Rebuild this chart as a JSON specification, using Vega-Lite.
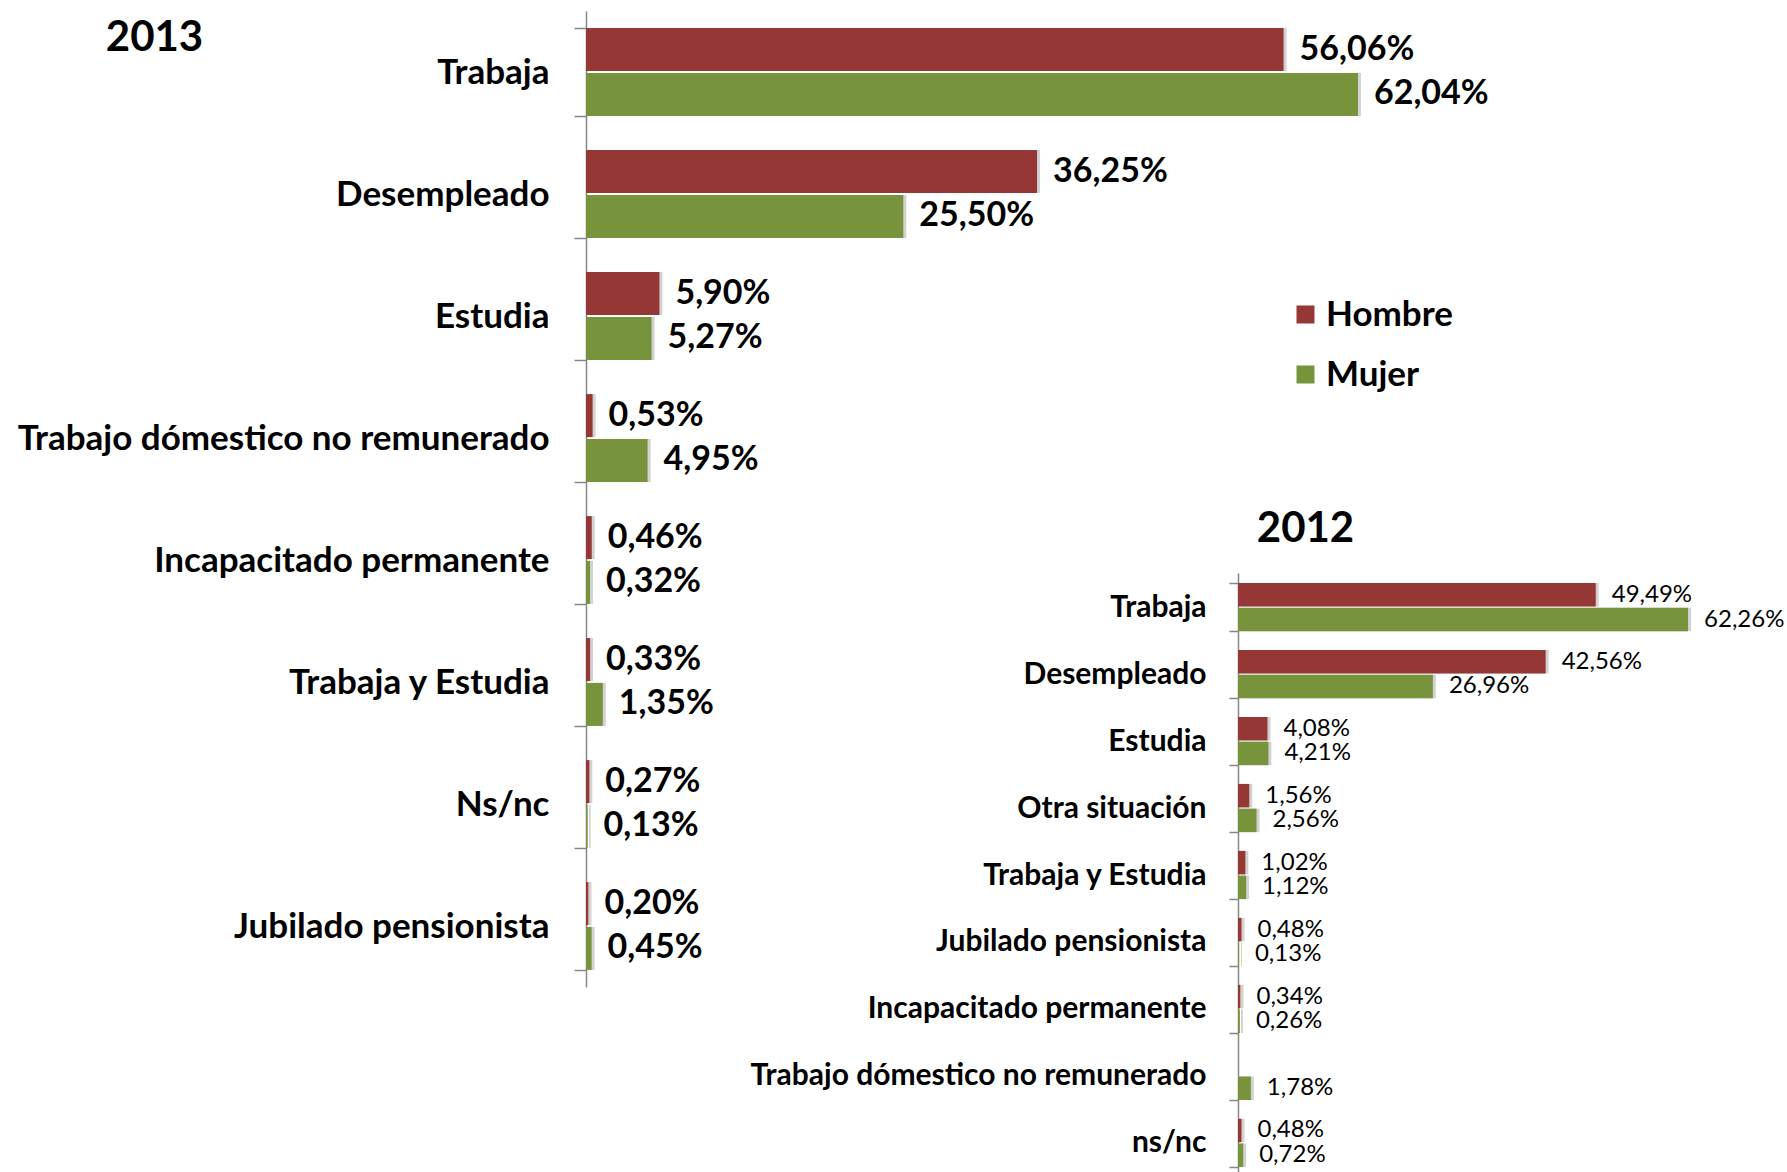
{
  "$schema": "https://vega.github.io/schema/vega-lite/v6.json",
  "width": 1787,
  "height": 1172,
  "autosize": {"type": "none"},
  "padding": 0,
  "background": "white",
  "config": {"view": {"stroke": null}, "font": "Lato"},
  "data": {
    "values": [
      {"year": 2013, "cat": "Trabaja", "sex": "Hombre", "v": 56.06, "label": "56,06%"},
      {"year": 2013, "cat": "Trabaja", "sex": "Mujer", "v": 62.04, "label": "62,04%"},
      {"year": 2013, "cat": "Desempleado", "sex": "Hombre", "v": 36.25, "label": "36,25%"},
      {"year": 2013, "cat": "Desempleado", "sex": "Mujer", "v": 25.50, "label": "25,50%"},
      {"year": 2013, "cat": "Estudia", "sex": "Hombre", "v": 5.90, "label": "5,90%"},
      {"year": 2013, "cat": "Estudia", "sex": "Mujer", "v": 5.27, "label": "5,27%"},
      {"year": 2013, "cat": "Trabajo dómestico no remunerado", "sex": "Hombre", "v": 0.53, "label": "0,53%"},
      {"year": 2013, "cat": "Trabajo dómestico no remunerado", "sex": "Mujer", "v": 4.95, "label": "4,95%"},
      {"year": 2013, "cat": "Incapacitado permanente", "sex": "Hombre", "v": 0.46, "label": "0,46%"},
      {"year": 2013, "cat": "Incapacitado permanente", "sex": "Mujer", "v": 0.32, "label": "0,32%"},
      {"year": 2013, "cat": "Trabaja y Estudia", "sex": "Hombre", "v": 0.33, "label": "0,33%"},
      {"year": 2013, "cat": "Trabaja y Estudia", "sex": "Mujer", "v": 1.35, "label": "1,35%"},
      {"year": 2013, "cat": "Ns/nc", "sex": "Hombre", "v": 0.27, "label": "0,27%"},
      {"year": 2013, "cat": "Ns/nc", "sex": "Mujer", "v": 0.13, "label": "0,13%"},
      {"year": 2013, "cat": "Jubilado pensionista", "sex": "Hombre", "v": 0.20, "label": "0,20%"},
      {"year": 2013, "cat": "Jubilado pensionista", "sex": "Mujer", "v": 0.45, "label": "0,45%"},
      {"year": 2012, "cat": "Trabaja", "sex": "Hombre", "v": 49.49, "label": "49,49%"},
      {"year": 2012, "cat": "Trabaja", "sex": "Mujer", "v": 62.26, "label": "62,26%"},
      {"year": 2012, "cat": "Desempleado", "sex": "Hombre", "v": 42.56, "label": "42,56%"},
      {"year": 2012, "cat": "Desempleado", "sex": "Mujer", "v": 26.96, "label": "26,96%"},
      {"year": 2012, "cat": "Estudia", "sex": "Hombre", "v": 4.08, "label": "4,08%"},
      {"year": 2012, "cat": "Estudia", "sex": "Mujer", "v": 4.21, "label": "4,21%"},
      {"year": 2012, "cat": "Otra situación", "sex": "Hombre", "v": 1.56, "label": "1,56%"},
      {"year": 2012, "cat": "Otra situación", "sex": "Mujer", "v": 2.56, "label": "2,56%"},
      {"year": 2012, "cat": "Trabaja y Estudia", "sex": "Hombre", "v": 1.02, "label": "1,02%"},
      {"year": 2012, "cat": "Trabaja y Estudia", "sex": "Mujer", "v": 1.12, "label": "1,12%"},
      {"year": 2012, "cat": "Jubilado pensionista", "sex": "Hombre", "v": 0.48, "label": "0,48%"},
      {"year": 2012, "cat": "Jubilado pensionista", "sex": "Mujer", "v": 0.13, "label": "0,13%"},
      {"year": 2012, "cat": "Incapacitado permanente", "sex": "Hombre", "v": 0.34, "label": "0,34%"},
      {"year": 2012, "cat": "Incapacitado permanente", "sex": "Mujer", "v": 0.26, "label": "0,26%"},
      {"year": 2012, "cat": "Trabajo dómestico no remunerado", "sex": "Mujer", "v": 1.78, "label": "1,78%"},
      {"year": 2012, "cat": "ns/nc", "sex": "Hombre", "v": 0.48, "label": "0,48%"},
      {"year": 2012, "cat": "ns/nc", "sex": "Mujer", "v": 0.72, "label": "0,72%"}
    ]
  },
  "resolve": {
    "scale": {"x": "independent", "y": "independent", "yOffset": "independent"},
    "axis": {"x": "independent", "y": "independent"}
  },
  "layer": [
    {
      "transform": [{"filter": "datum.year == 2013"}],
      "encoding": {
        "y": {
          "field": "cat", "type": "nominal",
          "scale": {
            "domain": ["Trabaja", "Desempleado", "Estudia", "Trabajo dómestico no remunerado", "Incapacitado permanente", "Trabaja y Estudia", "Ns/nc", "Jubilado pensionista"],
            "range": [11, 987], "paddingInner": 0.28, "paddingOuter": 0.14
          },
          "axis": {
            "orient": "left", "offset": -586,
            "title": "2013", "titleAngle": 0, "titleX": -432, "titleY": 37,
            "titleAlign": "center", "titleBaseline": "middle",
            "titleFont": "Lato", "titleFontSize": 42, "titleFontWeight": "bold", "titleColor": "black",
            "labelFont": "Lato", "labelFontSize": 35, "labelFontWeight": "bold", "labelColor": "black",
            "labelPadding": 25, "labelLimit": 0, "tickSize": 12, "tickBand": "extent",
            "domainColor": "#868686", "tickColor": "#868686", "domainWidth": 1.5, "tickWidth": 1.5, "grid": false
          }
        },
        "yOffset": {"field": "sex", "type": "nominal", "scale": {"domain": ["Hombre", "Mujer"], "paddingInner": 0.04}},
        "x": {"field": "v", "type": "quantitative", "scale": {"domain": [0, 70], "range": [586, 1457]}, "axis": null}
      },
      "layer": [
        {
          "mark": {"type": "bar", "color": "#d2d2d2", "xOffset": 3, "x2Offset": 3}
        },
        {
          "mark": {"type": "bar"},
          "encoding": {
            "color": {
              "field": "sex", "type": "nominal",
              "scale": {"domain": ["Hombre", "Mujer"], "range": ["#953735", "#77933C"]},
              "legend": {
                "orient": "none", "legendX": 1288, "legendY": 297, "title": null,
                "symbolType": "square", "symbolSize": 324, "symbolStrokeWidth": 0,
                "labelFont": "Lato", "labelFontSize": 35, "labelFontWeight": "bold", "labelColor": "black",
                "rowPadding": 24, "labelOffset": 3
              }
            }
          }
        },
        {
          "mark": {"type": "text", "align": "left", "baseline": "middle", "dx": 16, "font": "Lato", "fontSize": 34, "fontWeight": "bold", "color": "black"},
          "encoding": {"text": {"field": "label", "type": "nominal"}}
        }
      ]
    },
    {
      "transform": [{"filter": "datum.year == 2012"}],
      "encoding": {
        "y": {
          "field": "cat", "type": "nominal",
          "scale": {
            "domain": ["Trabaja", "Desempleado", "Estudia", "Otra situación", "Trabaja y Estudia", "Jubilado pensionista", "Incapacitado permanente", "Trabajo dómestico no remunerado", "ns/nc"],
            "range": [573, 1177], "paddingInner": 0.28, "paddingOuter": 0.15
          },
          "axis": {
            "orient": "left", "offset": -1238,
            "title": "2012", "titleAngle": 0, "titleX": 67, "titleY": 528,
            "titleAlign": "center", "titleBaseline": "middle",
            "titleFont": "Lato", "titleFontSize": 42, "titleFontWeight": "bold", "titleColor": "black",
            "labelFont": "Lato", "labelFontSize": 30, "labelFontWeight": "bold", "labelColor": "black",
            "labelPadding": 23, "labelLimit": 0, "tickSize": 9, "tickBand": "extent",
            "domainColor": "#868686", "tickColor": "#868686", "domainWidth": 1.5, "tickWidth": 1.5, "grid": false
          }
        },
        "yOffset": {"field": "sex", "type": "nominal", "scale": {"domain": ["Hombre", "Mujer"], "paddingInner": 0.05}},
        "x": {"field": "v", "type": "quantitative", "scale": {"domain": [0, 70], "range": [1238, 1744]}, "axis": null}
      },
      "layer": [
        {
          "mark": {"type": "bar", "color": "#d2d2d2", "xOffset": 3, "x2Offset": 3}
        },
        {
          "mark": {"type": "bar"},
          "encoding": {
            "color": {
              "field": "sex", "type": "nominal",
              "scale": {"domain": ["Hombre", "Mujer"], "range": ["#953735", "#77933C"]},
              "legend": {
                "orient": "none", "legendX": 1288, "legendY": 297, "title": null,
                "symbolType": "square", "symbolSize": 324, "symbolStrokeWidth": 0,
                "labelFont": "Lato", "labelFontSize": 35, "labelFontWeight": "bold", "labelColor": "black",
                "rowPadding": 24, "labelOffset": 3
              }
            }
          }
        },
        {
          "mark": {"type": "text", "align": "left", "baseline": "middle", "dx": 16, "font": "Lato", "fontSize": 24, "color": "black"},
          "encoding": {"text": {"field": "label", "type": "nominal"}}
        }
      ]
    }
  ]
}
